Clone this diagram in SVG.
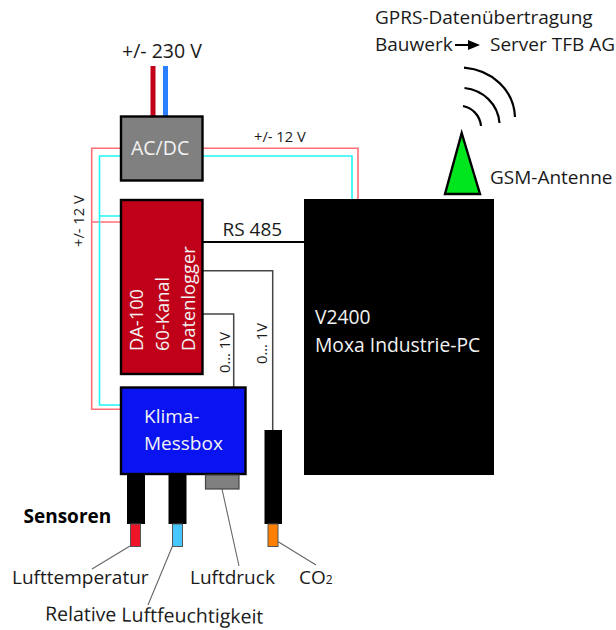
<svg xmlns="http://www.w3.org/2000/svg" width="616" height="630" viewBox="0 0 616 630">
<style>
text{font-family:"Open Sans","Noto Sans","Liberation Sans",sans-serif;fill:#1a1a1a;font-size:19px}
.w{fill:#f2f2f2}
.sm{font-size:14.700px}
.lg{font-size:18.300px}
.box{stroke:#000;stroke-width:2.4}
.pink{fill:none;stroke:#ff6f78;stroke-width:1.6}
.cyan{fill:none;stroke:#22f5f5;stroke-width:1.6}
.sig{fill:none;stroke:#444;stroke-width:1.5}
.lead{fill:none;stroke:#666;stroke-width:1.1}
.tip{stroke:#555;stroke-width:1}
</style>
<rect width="616" height="630" fill="#fff"/>
<g id="connectors">
<path class="pink" d="M120 148.300H91.700V409.300H120M120 222H91.700M203 148.300H358V199"/>
<path class="cyan" d="M120 156H99.500V405H120M120 216H99.500M203 156H352V199"/>
<path d="M153 66V116" fill="none" stroke="#c00018" stroke-width="5"/>
<path d="M165.500 66V116" fill="none" stroke="#2a80ff" stroke-width="5"/>
<path d="M203 242H304" fill="none" stroke="#000" stroke-width="2"/>
<path class="sig" d="M203 270.700H272.700V430"/>
<path class="sig" d="M203 314H233.700V387"/>
<path class="lead" d="M130 546L92 569M175 540L148 605M222 489L239 566M277 541L316 565"/>
</g>
<g id="power"><text x="122" y="58" style="font-size:19.500px">+/- 230 V</text></g>
<g id="acdc"><rect class="box" x="121" y="116.500" width="81.500" height="64" fill="#808080"/><text class="w" x="131" y="155" style="font-size:19.500px">AC/DC</text></g>
<g id="logger"><rect class="box" x="121" y="200" width="81.500" height="174" fill="#c00018"/>
<text class="w lg" transform="translate(143,351) rotate(-90)">DA-100</text><text class="w lg" transform="translate(169,351) rotate(-90)">60-Kanal</text><text class="w lg" transform="translate(195,351) rotate(-90)">Datenlogger</text></g>
<g id="klima"><rect class="box" x="121" y="387.500" width="124.500" height="86.500" fill="#0a14f0"/><text class="w" x="144" y="423">Klima-</text><text class="w" x="144" y="450">Messbox</text></g>
<g id="pc"><rect x="304" y="199" width="190" height="276" fill="#000"/><text class="w" x="315" y="324" style="font-size:19.300px">V2400</text><text class="w" x="315" y="352" style="font-size:19.300px">Moxa Industrie-PC</text></g>
<g id="antenna"><path d="M461.700 133L445 194H480Z" fill="#00e61e" stroke="#000" stroke-width="2.400" stroke-linejoin="miter"/>
<path d="M464 67.700C492 70 514 90 515 117M464.500 88C483 90 498 104 499.500 123M463 106C472 108 480 115 481 126" fill="none" stroke="#000" stroke-width="2.200"/>
<text x="490" y="184">GSM-Antenne</text></g>
<g id="gprs"><text x="375" y="24">GPRS-Datenübertragung</text><text x="375" y="51">Bauwerk</text><path d="M455 45H470" stroke="#000" stroke-width="2"/><path d="M468 40L480 45L468 50Z" fill="#000"/><text x="490" y="51">Server TFB AG</text></g>
<g id="labels"><text class="sm" x="254" y="141.500">+/- 12 V</text><text class="sm" transform="translate(84,247) rotate(-90)">+/- 12 V</text>
<text x="222.500" y="236">RS 485</text>
<text class="sm" transform="translate(230,373) rotate(-90)">0... 1V</text><text class="sm" transform="translate(267,364) rotate(-90)">0... 1V</text>
<text x="23.500" y="523" style="font-weight:700;fill:#000">Sensoren</text>
<text x="12" y="584">Lufttemperatur</text><text x="45" y="620.500" transform="rotate(0.8 45 620.500)" style="font-size:19.500px">Relative Luftfeuchtigkeit</text><text x="190" y="584">Luftdruck</text><text x="299" y="584">CO<tspan style="font-size:12px">2</tspan></text></g>
<g id="sensor-temp"><rect x="127" y="474" width="18" height="50" fill="#000"/><rect class="tip" x="130.500" y="524" width="10" height="22.500" fill="#f01428"/></g>
<g id="sensor-rh"><rect x="168.500" y="474" width="18" height="50" fill="#000"/><rect class="tip" x="172.500" y="524" width="10" height="22.500" fill="#46c8ff"/></g>
<g id="sensor-druck"><rect x="205.500" y="475" width="33.500" height="14" fill="#808080" stroke="#444" stroke-width="1.200"/></g>
<g id="sensor-co2"><rect x="264.500" y="430" width="17.500" height="94" fill="#000"/><rect class="tip" x="268" y="524" width="10" height="22.500" fill="#ff8000"/></g>
</svg>
